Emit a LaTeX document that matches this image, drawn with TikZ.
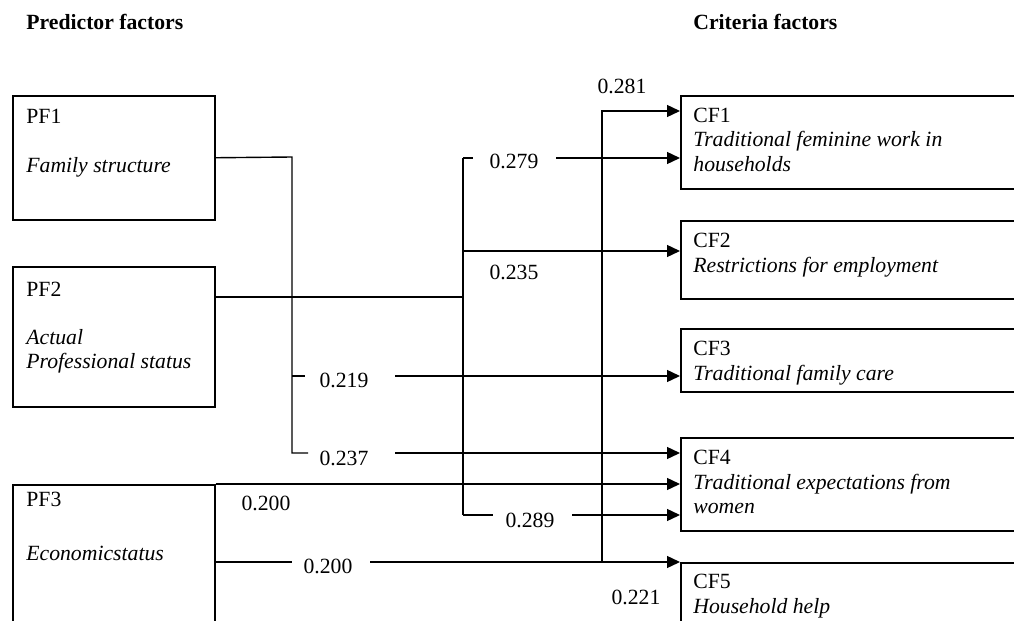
\documentclass[tikz,border=0pt]{standalone}
\usepackage{fontspec}
\setmainfont{Liberation Serif}
\usetikzlibrary{arrows.meta}
\begin{document}
\begin{tikzpicture}[x=0.5pt,y=-0.5pt,
  every node/.style={font=\fontsize{10.85pt}{12.5pt}\selectfont},
  box/.style={draw, line width=0.75pt, anchor=north west, inner sep=0pt},
  lbl/.style={anchor=base, inner sep=0pt},
  txt/.style={anchor=base west, inner sep=0pt},
  ttl/.style={anchor=base west, inner sep=0pt, font=\fontsize{10.85pt}{12.5pt}\selectfont\bfseries},
  conn/.style={line width=0.7pt},
  arr/.style={conn, -{Triangle[length=6.5pt,width=6pt]}}]
\useasboundingbox (0,0) rectangle (1014,621);
\clip (0,0) rectangle (1014,621);
% titles
\node[ttl] (tp) at (26,30) {Predictor factors};
\node[ttl] (tc) at (693,30) {Criteria factors};
% boxes
\node[box, minimum width=101pt, minimum height=62pt] (PF1) at (12,95) {};
\node[box, minimum width=101pt, minimum height=70pt] (PF2) at (12,266) {};
\node[box, minimum width=101pt, minimum height=108pt] (PF3) at (12,484) {};
\node[box, minimum width=175pt, minimum height=46.5pt] (CF1) at (680,95) {};
\node[box, minimum width=175pt, minimum height=39pt] (CF2) at (680,220) {};
\node[box, minimum width=175pt, minimum height=31.5pt] (CF3) at (680,328) {};
\node[box, minimum width=175pt, minimum height=46.5pt] (CF4) at (680,437) {};
\node[box, minimum width=175pt, minimum height=69pt] (CF5) at (680,562) {};
% box texts
\node[txt] (t1a) at (26,123) {PF1};
\node[txt] (t1b) at (26,172) {\itshape Family structure};
\node[txt] (t2a) at (26,296) {PF2};
\node[txt] (t2b) at (26,344) {\itshape Actual};
\node[txt] (t2c) at (26,368) {\itshape Professional status};
\node[txt] (t3a) at (26,506) {PF3};
\node[txt] (t3b) at (26,560) {\itshape Economicstatus};
\node[txt] (c1a) at (693,122) {CF1};
\node[txt] (c1b) at (693,147) {\itshape Traditional feminine work in};
\node[txt] (c1c) at (693,171) {\itshape households};
\node[txt] (c2a) at (693,247) {CF2};
\node[txt] (c2b) at (693,272) {\itshape Restrictions for employment};
\node[txt] (c3a) at (693,355) {CF3};
\node[txt] (c3b) at (693,380) {\itshape Traditional family care};
\node[txt] (c4a) at (693,464) {CF4};
\node[txt] (c4b) at (693,489) {\itshape Traditional expectations from};
\node[txt] (c4c) at (693,513) {\itshape women};
\node[txt] (c5a) at (693,588) {CF5};
\node[txt] (c5b) at (693,613) {\itshape Household help};
% coefficient labels
\node[lbl] (w281) at (622,93) {0.281};
\node[lbl] (w279) at (514,168) {0.279};
\node[lbl] (w235) at (514,279) {0.235};
\node[lbl] (w219) at (344,387) {0.219};
\node[lbl] (w237) at (344,465) {0.237};
\node[lbl] (w200a) at (266,510) {0.200};
\node[lbl] (w200b) at (328,573) {0.200};
\node[lbl] (w289) at (530,527) {0.289};
\node[lbl] (w221) at (636,604) {0.221};
% junction coordinates
\coordinate (a) at (292,157);
\coordinate (b) at (292,376);
\coordinate (b1) at (305,376);
\coordinate (b2) at (395,376);
\coordinate (c) at (292,453);
\coordinate (c1) at (308,453);
\coordinate (c2) at (395,453);
\coordinate (d) at (463,297);
\coordinate (e) at (463,158);
\coordinate (e1) at (473,158);
\coordinate (e2) at (556,158);
\coordinate (f) at (463,251);
\coordinate (g) at (463,515);
\coordinate (g1) at (493,515);
\coordinate (g2) at (572,515);
\coordinate (h) at (292,562);
\coordinate (h2) at (370,562);
\coordinate (k) at (602,562);
\coordinate (m) at (602,111);
% PF1 connectors
\draw[conn] (PF1.east) -- (a) -- (c) -- (c1);
\draw[conn] (b) -- (b1);
\draw[arr] (b2) -- (CF3.west |- b2);
\draw[arr] (c2) -- (CF4.west |- c2);
% PF2 connectors
\draw[conn] (PF2.east |- d) -- (d);
\draw[conn] (e) -- (g);
\draw[conn] (e) -- (e1);
\draw[arr] (e2) -- (CF1.west |- e2);
\draw[arr] (f) -- (CF2.west |- f);
\draw[conn] (g) -- (g1);
\draw[arr] (g2) -- (CF4.west |- g2);
% PF3 connectors
\draw[arr] (PF3.north east) -- (CF4.west |- PF3.north east);
\draw[conn] (PF3.east |- h) -- (h);
\draw[arr] (h2) -- (CF5.north west);
\draw[arr] (k) -- (m) -- (CF1.west |- m);
\end{tikzpicture}
\end{document}
